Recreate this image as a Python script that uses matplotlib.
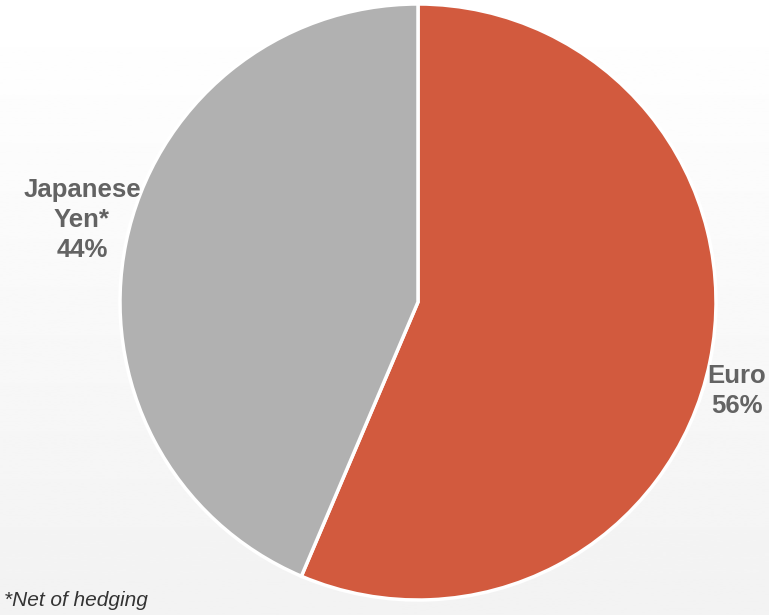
import numpy as np
import matplotlib
matplotlib.use("Agg")
from matplotlib import pyplot as plt

# data (split, labels rounded as shown)
labels = ["Euro", "Japanese\nYen*"]
shares = [56.4, 43.6]
shown = [56, 44]
colours = ["#D25A3E", "#B1B1B1"]
footnote = "*Net of hedging"

W, H = 769, 615
fig = plt.figure(figsize=(W / 100, H / 100), dpi=100)

# light vertical gradient for background
bg = fig.add_axes([0, 0, 1, 1])
grad = np.linspace(0.95, 1.0, 256).reshape(-1, 1)
bg.imshow(grad, cmap="gray", vmin=0, vmax=1, aspect="auto", extent=[0, 1, 0, 1], origin="lower")
bg.axis("off")

ax = fig.add_axes([0, 0, 1, 1])
ax.patch.set_alpha(0)
cx, cy, r = 418, H - 302, 298
ax.pie(shares, colors=colours, startangle=90, counterclock=False,
       center=(cx, cy), radius=r,
       wedgeprops=dict(edgecolor="white", linewidth=2.5))
ax.set_xlim(0, W)
ax.set_ylim(0, H)
ax.set_aspect("auto")
ax.axis("off")

txt = dict(fontsize=18.5, fontweight="bold", color="#636363", ha="center", va="center",
           family="Liberation Sans", linespacing=1.3)
ax.text(737, H - 391, "%s\n%d%%" % (labels[0], shown[0]), **txt)
ax.text(82, H - 220, "%s\n%d%%" % (labels[1], shown[1]), **txt)

ax.text(4, H - 601, footnote, fontsize=15, style="italic", color="#333333",
        ha="left", va="center", family="Liberation Sans")

fig.savefig("out.png", dpi=100)
